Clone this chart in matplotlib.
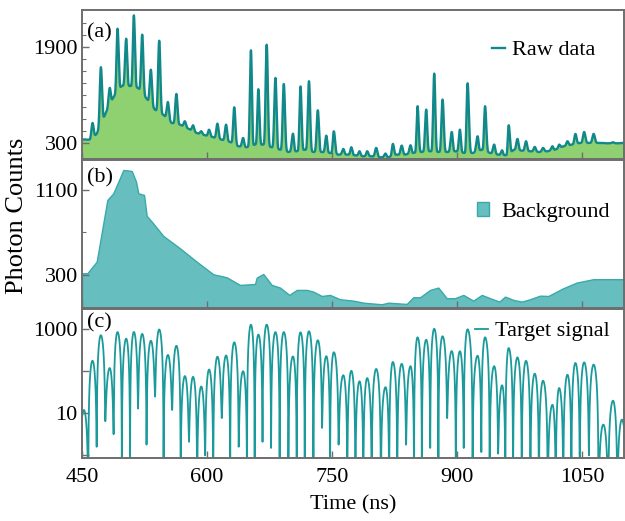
import numpy as np
import matplotlib
matplotlib.use("Agg")
import matplotlib.pyplot as plt
from matplotlib.ticker import FixedLocator, NullFormatter, LogLocator

# ---------------- data ----------------
peak_time = [452.4, 462.6, 472.6, 483.2, 492.6, 503.0, 512.2, 522.2, 532.6, 542.6,
             553.0, 563.2, 573.4, 583.2, 593.0, 602.4, 612.4, 622.8, 632.6, 643.2,
             652.6, 661.5, 671.5, 682.0, 692.0, 703.0, 712.0, 722.2, 732.8, 743.0,
             752.0, 763.4, 773.0, 782.8, 792.0, 802.8, 814.0, 822.8, 833.4, 844.0,
             852.4, 862.8, 872.4, 882.4, 893.4, 903.2, 912.4, 924.4, 933.4, 944.3,
             953.8, 961.7, 972.2, 982.5, 993.0, 1002.9, 1014.2, 1022.2, 1032.2, 1041.7,
             1052.2, 1063.6, 1075.2, 1086.8, 1097.3]

raw_peak = [365, 636, 1558, 1215, 2197, 2031, 2418, 2098, 1518, 1998,
            983, 1116, 664, 598, 499, 525, 625, 608, 896, 388,
            1839, 1195, 1932, 1381, 1281, 459, 1242, 1327, 846, 426,
            499, 206, 234, 168, 168, 223, 130, 289, 261, 267,
            913, 858, 1454, 1024, 487, 526, 1293, 416, 913, 278,
            184, 598, 372, 334, 240, 223, 251, 278, 334, 455,
            487, 455, 306, 317, 306]

raw_base_time = [450, 460, 467.6, 477.6, 487.6, 497.6, 507.6, 517.5, 527.6, 537.5,
                 547.5, 557.6, 567.5, 577.5, 587.5, 597.5, 607.5, 617.5, 627.5, 637.5,
                 647.5, 657.5, 667.4, 677.5, 687.5, 697.4, 707.5, 717.5, 727.4, 737.5,
                 747.4, 757.4, 767.4, 777, 787, 797, 807, 817, 827, 837,
                 847, 857, 867, 877, 889.3, 899.4, 908.1, 919.3, 929.3, 939.3,
                 949.3, 959.3, 968.1, 977.3, 987.3, 998.1, 1008.1, 1017.3, 1027.3, 1037.3,
                 1047.3, 1058, 1069.2, 1079.2, 1100]
raw_base = [360, 360, 454, 773, 1061, 1250, 1250, 1215, 1038, 856,
            773, 636, 608, 542, 470, 433, 400, 360, 322, 250,
            234, 278, 277, 234, 194, 156, 168, 194, 156, 156,
            140, 112, 112, 101, 85, 85, 68, 68, 112, 112,
            140, 156, 168, 156, 156, 168, 140, 140, 194, 140,
            112, 101, 194, 178, 168, 156, 168, 194, 250, 278,
            306, 306, 306, 300, 300]

bg_time = [450, 456.4, 467.6, 480.4, 487.6, 499.6, 509.6, 514.8, 517.5, 524.4,
           527.6, 533.6, 547.5, 567.5, 587.5, 607.5, 623.5, 639.5, 657.5, 659.5,
           667.4, 677.5, 687.5, 698.6, 707.5, 719.5, 727.4, 737.5, 747.4, 759.4,
           775.4, 787.4, 809.4, 817.4, 839.4, 847.3, 855.4, 867.4, 877.3, 887.4,
           897.3, 907.3, 919.3, 929.4, 939.3, 950.5, 957.3, 967.3, 977.3, 987.3,
           999.3, 1009.3, 1027.2, 1043.3, 1063.2, 1100]
bg_value = [316, 316, 425, 1006, 1069, 1288, 1279, 1178, 1069, 1053,
            855, 802, 667, 551, 425, 306, 278, 206, 215, 275,
            309, 206, 181, 112, 159, 159, 143, 102, 112, 71,
            58, 39, 24, 39, 27, 90, 90, 159, 181, 81,
            81, 112, 58, 112, 81, 49, 96, 65, 49, 71,
            105, 102, 175, 228, 260, 260]

sig_peak = [11, 178, 720, 115, 860, 600, 860, 770, 520, 980,
            240, 400, 76, 73, 43, 110, 219, 235, 490, 100,
            1290, 750, 1290, 860, 860, 227, 850, 900, 547, 227,
            284, 80, 103, 58, 69, 114, 42, 167, 150, 132,
            645, 565, 1030, 680, 300, 300, 1000, 235, 645, 132,
            46, 358, 215, 178, 88, 60, 16, 40, 83, 158,
            163, 144, 5.4, 20, 5.9]

sig_dip = [2.0, 0, 1.6, 6.5, 3.2, 0, 0, 13, 1.8, 25,
           0, 12, 0, 2.1, 0, 1.0, 0, 7.7, 0, 1.6,
           0, 0, 2.1, 1.5, 0, 0, 0, 0, 0, 4.5,
           0, 1.8, 0, 0, 0, 0, 0, 0, 0, 1.8,
           0, 0, 1.5, 0, 7.7, 0, 1.5, 0, 1.2, 0,
           1.1, 0, 0, 0, 0, 0, 0, 0, 0, 0,
           0, 1.0, 0, 0, 0, 2.3]

x_ticks = [450, 600, 750, 900, 1050]
a_yticks = [300, 1900]
b_yticks = [300, 1100]
c_yticks = [1, 10, 100, 1000]
c_ytick_labels = ["", "10", "", "1000"]

# ---------------- style ----------------
plt.rcParams['font.family'] = ['Liberation Serif', 'DejaVu Serif']
FS = 16
SPINE = '#6e6e6e'
RAW_LINE = '#11898a'
RAW_FILL = '#8fd071'
BG_FILL = '#66bebe'
BG_EDGE = '#3aa9a9'
SIG_LINE = '#1a9a9a'

# ---------------- curves from the peak tables ----------------
t = np.linspace(450, 1100, 26001)
pt = np.array(peak_time)
bounds = np.concatenate([[pt[0] - (pt[1] - pt[0]) / 2], (pt[:-1] + pt[1:]) / 2,
                         [pt[-1] + (pt[-1] - pt[-2]) / 2]])
idx = np.clip(np.searchsorted(bounds, t, side='right') - 1, 0, len(pt) - 1)
c = pt[idx]
lb = bounds[idx]
rb = bounds[idx + 1]
u = np.where(t < c, 0.5 * (t - c) / (c - lb), 0.5 * (t - c) / (rb - c))
shape = np.clip(np.cos(np.pi * u), 0, 1)

base_t = np.interp(t, raw_base_time, raw_base)
base_pk = np.interp(pt, raw_base_time, raw_base)
amp = np.array(raw_peak) - base_pk
raw = base_t + amp[idx] * shape ** 6

dips = np.array(sig_dip)
w = (t - lb) / (rb - lb)
dip_t = dips[idx] * (1 - w) + dips[idx + 1] * w
sig = np.array(sig_peak)[idx] * shape ** 1.8 + dip_t
sig = np.maximum(sig, 1e-3)

# ---------------- figure ----------------
fig = plt.figure(figsize=(6.25, 5.21), dpi=100)
L = 82 / 625
W = 542 / 625
ax_a = fig.add_axes([L, 1 - 159.3 / 521, W, 149.3 / 521])
ax_b = fig.add_axes([L, 1 - 308.3 / 521, W, 148.3 / 521])
ax_c = fig.add_axes([L, 1 - 458.3 / 521, W, 149.0 / 521])

for ax in (ax_a, ax_b, ax_c):
    ax.set_xlim(450, 1100)
    for s in ax.spines.values():
        s.set_color(SPINE)
        s.set_linewidth(1.4)
    ax.tick_params(which='both', direction='in', top=False, right=False,
                   colors=SPINE, labelcolor='black', labelsize=FS)
    ax.tick_params(which='major', length=5, width=1.0)
    ax.tick_params(which='minor', length=3, width=0.8)
    ax.tick_params(axis='y', pad=3)
    ax.tick_params(axis='x', pad=7)
    ax.xaxis.set_major_locator(FixedLocator(x_ticks))

# (a) raw data
ax_a.fill_between(t, raw, 0, color=RAW_FILL, lw=0)
ax_a.plot(t, raw, color=RAW_LINE, lw=1.7, label='Raw data')
ax_a.set_ylim(35, 2507)
ax_a.set_yticks(a_yticks)
ax_a.yaxis.set_minor_locator(FixedLocator(np.arange(500, 2500, 200)))
ax_a.set_xticklabels([])
ax_a.legend(loc='center left', bbox_to_anchor=(0.756, 0.732), frameon=False,
            fontsize=FS, handlelength=0.6, handletextpad=0.3, borderpad=0,
            borderaxespad=0)
ax_a.text(0.009, 0.846, '(a)', transform=ax_a.transAxes, fontsize=FS,
          va='center', ha='left')

# (b) background
ax_b.fill_between(bg_time, bg_value, -20, facecolor=BG_FILL, edgecolor=BG_EDGE,
                  lw=1.0, label='Background')
ax_b.set_ylim(-14, 1382)
ax_b.set_yticks(b_yticks)
ax_b.yaxis.set_minor_locator(FixedLocator([700]))
ax_b.set_xticklabels([])
ax_b.legend(loc='center left', bbox_to_anchor=(0.728, 0.649), frameon=False,
            fontsize=FS, handlelength=0.55, handleheight=0.55, handletextpad=0.55,
            borderpad=0, borderaxespad=0)
ax_b.text(0.009, 0.879, '(b)', transform=ax_b.transAxes, fontsize=FS,
          va='center', ha='left')

# (c) target signal
ax_c.plot(t, sig, color=SIG_LINE, lw=1.3, label='Target signal')
ax_c.set_yscale('log')
ax_c.set_ylim(0.85, 3000)
ax_c.yaxis.set_major_locator(FixedLocator(c_yticks))
ax_c.set_yticklabels(c_ytick_labels)
ax_c.yaxis.set_minor_locator(LogLocator(base=10, subs=np.arange(2, 10)))
ax_c.yaxis.set_minor_formatter(NullFormatter())
ax_c.set_xticks(x_ticks)
ax_c.set_xticklabels([str(v) for v in x_ticks])
ax_c.legend(loc='center left', bbox_to_anchor=(0.725, 0.854), frameon=False,
            fontsize=FS, handlelength=0.6, handletextpad=0.3, borderpad=0,
            borderaxespad=0)
ax_c.text(0.009, 0.908, '(c)', transform=ax_c.transAxes, fontsize=FS,
          va='center', ha='left')
ax_c.set_xlabel('Time (ns)', fontsize=FS, labelpad=6)

fig.text(0.027, 0.585, 'Photon Counts', rotation=90, fontsize=19,
         va='center', ha='center')

fig.savefig('out.png', dpi=100)
